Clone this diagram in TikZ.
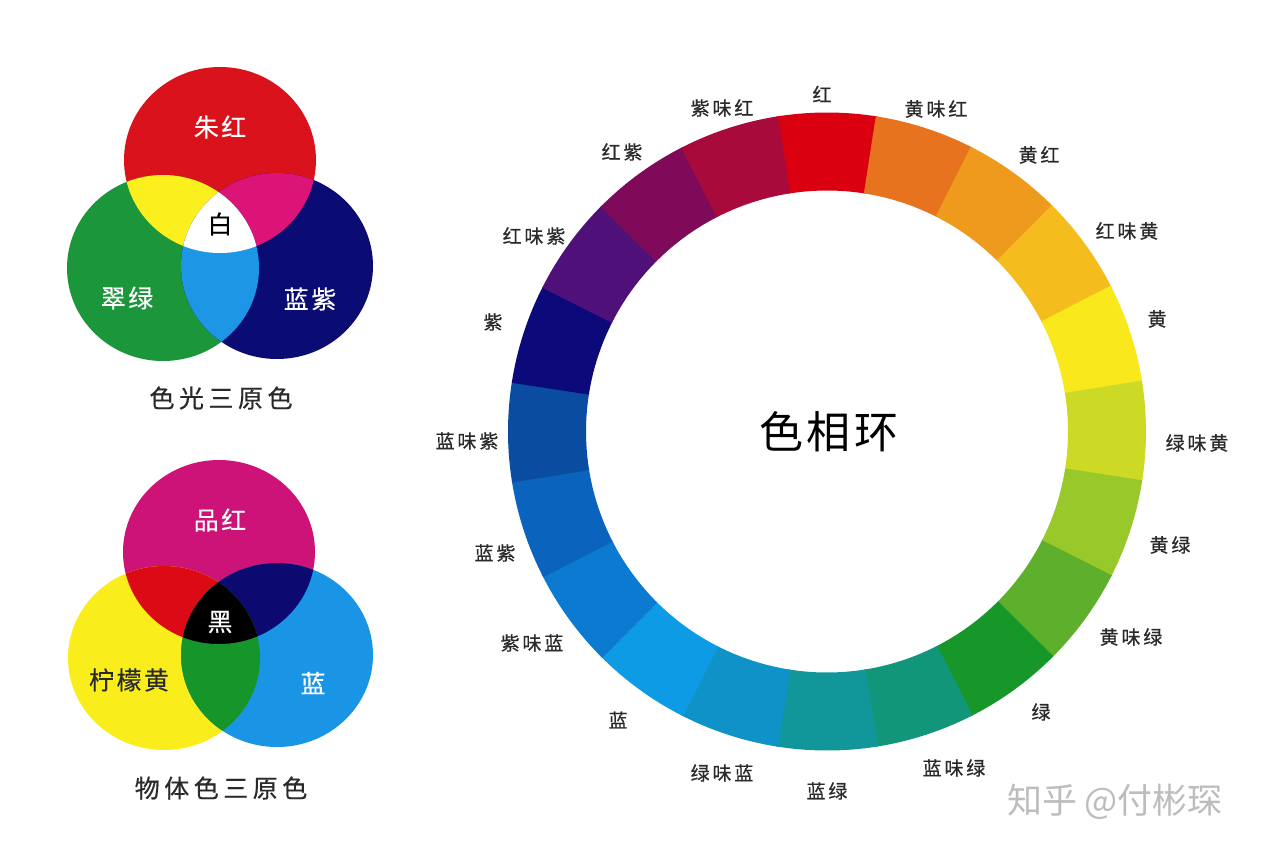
\documentclass[tikz,border=0pt]{standalone}
\usepackage{fontspec}
\newfontfamily\cjk{Noto Sans CJK SC}
\newfontfamily\cjkring[LetterSpace=15,FakeBold=0.6]{Noto Sans CJK SC}
\newfontfamily\cjkcap[LetterSpace=18,FakeBold=0.5]{Noto Sans CJK SC}
\newfontfamily\cjkvenn[LetterSpace=10,FakeBold=0.3]{Noto Sans CJK SC}
\newfontfamily\cjktitle[LetterSpace=9]{Noto Sans CJK SC}
% ring colours
\definecolor{h0}{HTML}{DA0010}
\definecolor{h1}{HTML}{E8731E}
\definecolor{h2}{HTML}{EE9A1C}
\definecolor{h3}{HTML}{F5BC1E}
\definecolor{h4}{HTML}{F8E81C}
\definecolor{h5}{HTML}{CCDA26}
\definecolor{h6}{HTML}{98C82A}
\definecolor{h7}{HTML}{5EB02C}
\definecolor{h8}{HTML}{17962A}
\definecolor{h9}{HTML}{12967A}
\definecolor{h10}{HTML}{11969A}
\definecolor{h11}{HTML}{0E92C8}
\definecolor{h12}{HTML}{0D9BE6}
\definecolor{h13}{HTML}{0C7AD0}
\definecolor{h14}{HTML}{0A64BD}
\definecolor{h15}{HTML}{0A4CA0}
\definecolor{h16}{HTML}{0C0A7A}
\definecolor{h17}{HTML}{50107A}
\definecolor{h18}{HTML}{800A5A}
\definecolor{h19}{HTML}{A80A3C}
% venn colours
\definecolor{vred}{HTML}{D9121B}
\definecolor{vgreen}{HTML}{1C963A}
\definecolor{vnavy}{HTML}{0B0C73}
\definecolor{vyellow}{HTML}{FCEF1E}
\definecolor{vmagenta}{HTML}{DC1478}
\definecolor{vcyan}{HTML}{1E96E6}
\definecolor{cmag}{HTML}{CD1278}
\definecolor{cyel}{HTML}{F9EE1C}
\definecolor{ccyan}{HTML}{1A94E4}
\definecolor{cred}{HTML}{DC0A14}
\definecolor{cnavy}{HTML}{0C0A70}
\definecolor{cgreen}{HTML}{16962A}
\definecolor{captxt}{HTML}{2A2A2A}
\definecolor{wmark}{HTML}{BDBDBD}
\tikzset{
  ringlbl/.style={font=\fontsize{19}{19}\selectfont\cjkring, text=captxt, inner sep=0pt},
  capt/.style={font=\fontsize{25}{25}\selectfont\cjkcap, text=captxt, inner sep=0pt},
  vlbl/.style={font=\fontsize{25}{25}\selectfont\cjkvenn, inner sep=0pt},
  ttl/.style={font=\fontsize{44}{44}\selectfont\cjktitle, text=black, inner sep=0pt},
  wm/.style={font=\fontsize{35}{35}\selectfont\cjk, text=wmark, inner sep=0pt},
}
\begin{document}
\begin{tikzpicture}[x=1pt,y=-1pt]
\useasboundingbox (0,0) rectangle (1263,852);
\fill[white] (0,0) rectangle (1263,852);

% ---------- additive (light) primaries ----------
\coordinate (LR) at (220,160);
\coordinate (LG) at (163,268);
\coordinate (LB) at (277,266);
\def\ex{ellipse [x radius=96, y radius=93]}
\fill[vred] (LR) \ex;
\fill[vgreen] (LG) \ex;
\fill[vnavy] (LB) \ex;
\begin{scope}\clip (LR) \ex; \fill[vyellow] (LG) \ex; \end{scope}
\begin{scope}\clip (LR) \ex; \fill[vmagenta] (LB) \ex; \end{scope}
\begin{scope}\clip (LG) \ex; \fill[vcyan] (LB) \ex; \end{scope}
\begin{scope}\clip (LR) \ex; \clip (LG) \ex; \fill[white] (LB) \ex; \end{scope}
\node[vlbl, text=white] (zhuhong) at (220,127) {朱红};
\node[vlbl, text=black] (bai) at (220,224) {白};
\node[vlbl, text=white] (cuilv) at (127,298) {翠绿};
\node[vlbl, text=white] (lanzi1) at (310,299) {蓝紫};
\node[capt] (cap1) at (221,398) {色光三原色};

% ---------- subtractive (object) primaries ----------
\coordinate (CM) at (219,552);
\coordinate (CY) at (164,658);
\coordinate (CC) at (277,655);
\def\ey{ellipse [x radius=96, y radius=92]}
\fill[cmag] (CM) \ey;
\fill[cyel] (CY) \ey;
\fill[ccyan] (CC) \ey;
\begin{scope}\clip (CM) \ey; \fill[cred] (CY) \ey; \end{scope}
\begin{scope}\clip (CM) \ey; \fill[cnavy] (CC) \ey; \end{scope}
\begin{scope}\clip (CY) \ey; \fill[cgreen] (CC) \ey; \end{scope}
\begin{scope}\clip (CM) \ey; \clip (CY) \ey; \fill[black] (CC) \ey; \end{scope}
\node[vlbl, text=white] (pinhong) at (220,520) {品红};
\node[vlbl, text=white] (hei) at (220,622) {黑};
\node[vlbl, text=captxt] (ningmeng) at (129,680) {柠檬黄};
\node[vlbl, text=white] (lan1) at (313,683) {蓝};
\node[capt] (cap2) at (221,788) {物体色三原色};

% ---------- hue ring ----------
\begin{scope}[shift={(827,431.5)}]
\foreach \c [count=\k from 0] in {h0,h1,h2,h3,h4,h5,h6,h7,h8,h9,h10,h11,h12,h13,h14,h15,h16,h17,h18,h19}{
  \pgfmathsetmacro{\a}{-90+18*\k}
  \pgfmathsetmacro{\s}{\a-9.2}
  \pgfmathsetmacro{\e}{\a+9.2}
  \fill[\c] (\s:319) arc[start angle=\s, end angle=\e, radius=319]
        -- (\e:241) arc[start angle=\e, end angle=\s, radius=241] -- cycle;
}
\end{scope}
\node[ttl] (title) at (829,432) {色相环};

\node[ringlbl] (l0) at (822,94) {红};
\node[ringlbl] (l1) at (936,109) {黄味红};
\node[ringlbl] (l2) at (1039,155) {黄红};
\node[ringlbl] (l3) at (1127,231) {红味黄};
\node[ringlbl] (l4) at (1157,319) {黄};
\node[ringlbl] (l5) at (1197,443) {绿味黄};
\node[ringlbl] (l6) at (1170,545) {黄绿};
\node[ringlbl] (l7) at (1131,637) {黄味绿};
\node[ringlbl] (l8) at (1041,712) {绿};
\node[ringlbl] (l9) at (954,768) {蓝味绿};
\node[ringlbl] (l10) at (827,791) {蓝绿};
\node[ringlbl] (l11) at (722,773) {绿味蓝};
\node[ringlbl] (l12) at (618,720) {蓝};
\node[ringlbl] (l13) at (532,643) {紫味蓝};
\node[ringlbl] (l14) at (495,553) {蓝紫};
\node[ringlbl] (l15) at (467,441) {蓝味紫};
\node[ringlbl] (l16) at (493,322) {紫};
\node[ringlbl] (l17) at (534,236) {红味紫};
\node[ringlbl] (l18) at (622,152) {红紫};
\node[ringlbl] (l19) at (722,108) {紫味红};

% watermark
\node[wm] (wmk) at (1115,802) {知乎 @付彬琛};
\end{tikzpicture}
\end{document}
